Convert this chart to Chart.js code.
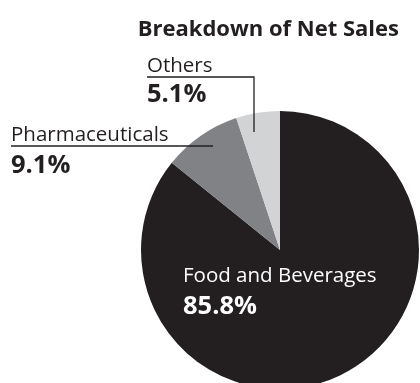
<!DOCTYPE html>
<html>
<head>
<meta charset="utf-8">
<script src="https://cdn.jsdelivr.net/npm/chart.js@4.4.1/dist/chart.umd.min.js"></script>
<style>
  html, body { margin: 0; padding: 0; background: #ffffff; }
  #wrap { width: 420px; height: 383px; position: relative; }
</style>
</head>
<body>
<div id="wrap"><canvas id="c"></canvas></div>
<script>
// Net sales split by business segment (%)
const segments = ['Food and Beverages', 'Pharmaceuticals', 'Others'];
const shares = [85.8, 9.1, 5.1];
const sliceColors = ['#231f20', '#808285', '#d1d3d4'];
const chartTitle = 'Breakdown of Net Sales';

const FONT = '"Open Sans", "Noto Sans", sans-serif';
const INK = '#231f20';

// Segment captions: name on top, bold percentage below, with an optional leader line
const captionLayout = [
  { x: 183, nameY: 282, pctY: 314, color: '#ffffff', leader: null },
  { x: 11, nameY: 141, pctY: 173, color: INK, leader: { lineY: 146, endX: 213, endY: 146 } },
  { x: 147, nameY: 72, pctY: 102, color: INK, leader: { lineY: 77, endX: 254, endY: 132 } }
];

const captionPlugin = {
  id: 'captions',
  afterDatasetsDraw(chart) {
    const ctx = chart.ctx;
    ctx.save();
    ctx.textBaseline = 'alphabetic';

    // heading, right-aligned above the pie
    ctx.textAlign = 'right';
    ctx.fillStyle = INK;
    ctx.font = 'bold 22px ' + FONT;
    ctx.fillText(chartTitle, 399, 36);

    ctx.textAlign = 'left';
    segments.forEach((name, i) => {
      const L = captionLayout[i];
      ctx.fillStyle = L.color;
      ctx.font = '20.5px ' + FONT;
      ctx.fillText(name, L.x, L.nameY);
      ctx.font = 'bold 25.5px ' + FONT;
      ctx.fillText(shares[i].toFixed(1) + '%', L.x, L.pctY);
      if (L.leader) {
        ctx.strokeStyle = INK;
        ctx.lineWidth = 1.3;
        ctx.beginPath();
        ctx.moveTo(L.x, L.leader.lineY);
        ctx.lineTo(L.leader.endX, L.leader.lineY);
        ctx.lineTo(L.leader.endX, L.leader.endY);
        ctx.stroke();
      }
    });
    ctx.restore();
  }
};

new Chart(document.getElementById('c'), {
  type: 'pie',
  data: {
    labels: segments,
    datasets: [{
      data: shares,
      backgroundColor: sliceColors,
      borderWidth: 0,
      radius: 139
    }]
  },
  options: {
    responsive: true,
    maintainAspectRatio: false,
    animation: false,
    layout: { padding: { left: 161, right: 21, top: 117, bottom: 0 } },
    plugins: {
      legend: { display: false },
      tooltip: { enabled: false },
      title: { display: false }
    }
  },
  plugins: [captionPlugin]
});
</script>
</body>
</html>
